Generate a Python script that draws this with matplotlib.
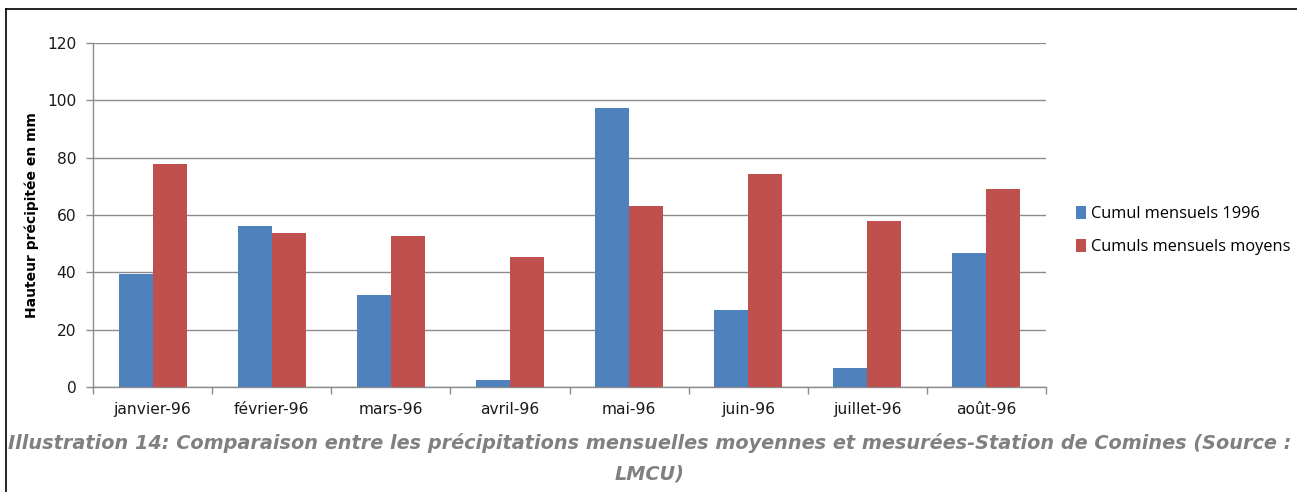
import matplotlib
matplotlib.use("Agg")
import matplotlib.pyplot as plt
from matplotlib.lines import Line2D
import numpy as np

categories = ["janvier-96", "février-96", "mars-96", "avril-96", "mai-96", "juin-96", "juillet-96", "août-96"]
cumul_1996 = [39.3, 56.3, 32.2, 2.3, 97.3, 26.7, 6.7, 46.6]
cumuls_moyens = [77.8, 53.8, 52.8, 45.2, 63.2, 74.3, 57.8, 69.2]
series_names = ["Cumul mensuels 1996", "Cumuls mensuels moyens"]
y_ticks = [0, 20, 40, 60, 80, 100, 120]

W, H = 1297, 492
fig = plt.figure(figsize=(W / 100, H / 100), dpi=100)
fig.patch.set_facecolor("white")

ax = fig.add_axes([93 / W, 1 - 387 / H, (1046 - 93) / W, (387 - 43) / H])
x = np.arange(len(categories))
bw = 1 / 3.5
ax.bar(x - bw / 2, cumul_1996, width=bw, color="#4F81BD", label=series_names[0], zorder=3)
ax.bar(x + bw / 2, cumuls_moyens, width=bw, color="#C0504D", label=series_names[1], zorder=3)

ax.set_xlim(-0.5, len(categories) - 0.5)
ax.set_ylim(0, 120)
ax.set_yticks(y_ticks)
ax.set_yticklabels([str(v) for v in y_ticks], fontsize=11.2, color="#1a1a1a", family="DejaVu Sans")
ax.yaxis.grid(True, color="#8c8c8c", linewidth=1.0, zorder=0)
ax.set_axisbelow(True)

ax.set_xticks(x)
ax.set_xticklabels(categories, fontsize=11.2, color="#1a1a1a", family="DejaVu Sans")
ax.tick_params(axis="x", length=0, pad=11)
ax.set_xticks(np.arange(-0.5, len(categories), 1.0), minor=True)
ax.tick_params(axis="x", which="minor", length=5, color="#8c8c8c", width=1)
ax.tick_params(axis="y", length=5, color="#8c8c8c", width=1, pad=7)

for s in ["top", "right"]:
    ax.spines[s].set_visible(False)
for s in ["left", "bottom"]:
    ax.spines[s].set_color("#8c8c8c")
    ax.spines[s].set_linewidth(1.0)

ax.set_ylabel("Hauteur précipitée en mm", fontsize=10.0, fontweight="bold", family="DejaVu Sans")
ax.yaxis.set_label_coords(-0.057, 0.5)

leg = fig.legend(loc="upper left", bbox_to_anchor=(1061 / W, 1 - 191 / H), frameon=False,
                 prop={"family": "Open Sans", "size": 11.8}, handlelength=0.6, handleheight=0.9,
                 handletextpad=0.35, labelspacing=1.0)

# frame lines
fig.add_artist(Line2D([6 / W, 1], [1 - 9 / H, 1 - 9 / H], color="black", linewidth=1.2, transform=fig.transFigure))
fig.add_artist(Line2D([6 / W, 6 / W], [0, 1 - 9 / H], color="black", linewidth=1.2, transform=fig.transFigure))

cap_kw = dict(ha="center", va="center", fontsize=13.85, fontweight="bold", fontstyle="italic",
              family="DejaVu Sans", color="#808080")
fig.text(650 / W, 1 - 443 / H,
         "Illustration 14: Comparaison entre les précipitations mensuelles moyennes et mesurées-Station de Comines (Source :",
         **cap_kw)
fig.text(650 / W, 1 - 474 / H, "LMCU)", **cap_kw)

fig.savefig("out.png", dpi=100)
